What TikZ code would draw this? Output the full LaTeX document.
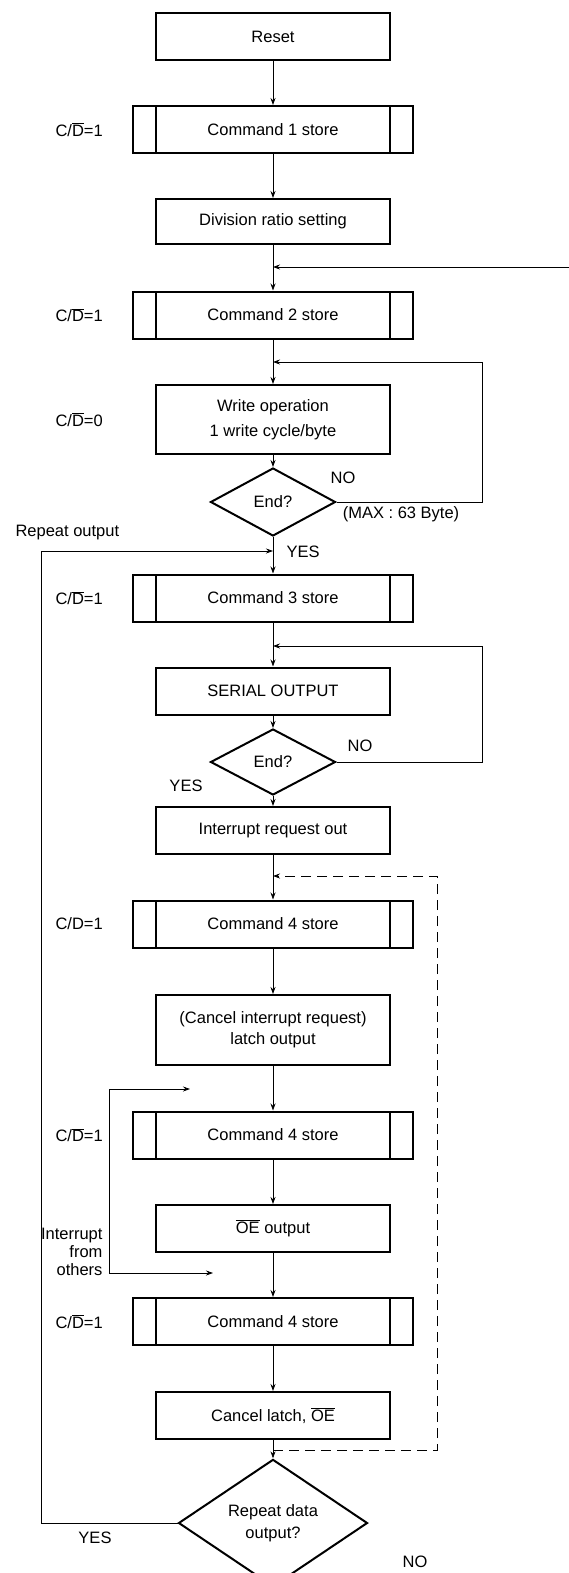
\documentclass[tikz,border=0pt]{standalone}
\usepackage{fontspec}
\setmainfont{Liberation Sans}
\usetikzlibrary{shapes.geometric,arrows.meta}

\newcommand{\Dbar}{$\overline{\mbox{D}}$}
\newcommand{\OEbar}{$\overline{\mbox{OE}}$}

\begin{document}
\begin{tikzpicture}[x=1pt,y=-1pt,
  font=\fontsize{16.5}{20}\selectfont,
  >={Stealth[length=7pt,width=5pt]},
  box/.style={draw,line width=2pt,minimum width=234pt,minimum height=47pt,inner sep=0pt},
  cmdbox/.style={box,minimum width=280pt,
    path picture={\draw[line width=2pt]
      ([xshift=23pt]path picture bounding box.north west) -- ([xshift=23pt]path picture bounding box.south west)
      ([xshift=-23pt]path picture bounding box.north east) -- ([xshift=-23pt]path picture bounding box.south east);}},
  decide/.style={draw,diamond,line width=2pt,inner sep=0pt,align=center},
  flow/.style={->,line width=0.8pt}]

  \def\xc{273}
  \def\xr{482}

  \useasboundingbox (0,0) rectangle (569,1573);

  % boxes
  \node[box] (reset) at (\xc,36.5) {Reset};
  \node[cmdbox] (cmda) at (\xc,129.5) {Command 1 store};
  \node[box,minimum height=45pt] (div) at (\xc,221.5) {Division ratio setting};
  \node[cmdbox] (cmdb) at (\xc,315) {Command 2 store};
  \node[box,minimum height=69pt,align=center,font=\fontsize{16.5}{25}\selectfont] (write) at (\xc,419.5)
    {Write operation\\1 write cycle/byte};
  \node[decide,minimum width=125pt,minimum height=68pt] (enda) at (\xc,502) {End?};
  \node[cmdbox] (cmdc) at (\xc,598) {Command 3 store};
  \node[box] (serial) at (\xc,691) {SERIAL OUTPUT};
  \node[decide,minimum width=125pt,minimum height=66pt] (endb) at (\xc,762) {End?};
  \node[box] (irq) at (\xc,830.5) {Interrupt request out};
  \node[cmdbox] (cmdd) at (\xc,924) {Command 4 store};
  \node[box,minimum height=70pt,align=center,font=\fontsize{16.5}{21}\selectfont] (cancel) at (\xc,1030)
    {(Cancel interrupt request)\\latch output};
  \node[cmdbox] (cmde) at (\xc,1135) {Command 4 store};
  \node[box] (oe) at (\xc,1228.5) {\OEbar{} output};
  \node[cmdbox] (cmdf) at (\xc,1321.5) {Command 4 store};
  \node[box] (latch) at (\xc,1415.5) {Cancel latch, \OEbar};
  \node[decide,minimum width=189pt,minimum height=100pt,font=\fontsize{16.5}{22}\selectfont] (rep) at (\xc,1523)
    {Repeat data\\output?};

  % C/D labels
  \foreach \y/\v [count=\i] in {129.5/1,315/1,419.5/0,598/1,1135/1,1321.5/1}
  \node[anchor=west] (cd\i) at (52,\y) {C/\Dbar=\v};
  \node[anchor=west] (cdx) at (52,924) {C/D=1};

  % main flow
  \draw[flow] (reset) -- (cmda);
  \draw[flow] (cmda) -- (div);
  \draw[flow] (div) -- (cmdb);
  \draw[flow] (cmdb) -- (write);
  \draw[flow] (write) -- (enda);
  \draw[flow] (enda) -- (cmdc);
  \draw[flow] (cmdc) -- (serial);
  \draw[flow] (serial) -- (endb);
  \draw[flow] (endb) -- (irq);
  \draw[flow] (irq) -- (cmdd);
  \draw[flow] (cmdd) -- (cancel);
  \draw[flow] (cancel) -- (cmde);
  \draw[flow] (cmde) -- (oe);
  \draw[flow] (oe) -- (cmdf);
  \draw[flow] (cmdf) -- (latch);
  \draw[flow] (latch) -- (rep);

  % loops
  \coordinate (ina) at (569,267);
  \draw[flow] (ina) -- (div.south |- ina);
  \coordinate (joina) at (\xc,362);
  \draw[flow] (enda.east) -| (\xr,362) -- (joina);
  \coordinate (joinb) at (\xc,646);
  \draw[flow] (endb.east) -| (\xr,646) -- (joinb);
  \coordinate (joinc) at (\xc,551);
  \draw[flow] (rep.west) -| (41,551) -- (joinc);
  \coordinate (joind) at (\xc,876);
  \coordinate (splitd) at (\xc,1450);
  \draw[flow,dash pattern=on 10pt off 6pt] (splitd) -| (437,876) -- (joind);

  % interrupt from others
  \coordinate (irqa) at (190,1089);
  \coordinate (irqb) at (213,1273);
  \draw[<->,line width=0.8pt] (irqa) -- (109,1089) -- (109,1273) -- (irqb);

  % other labels
  \node (noa) at (343,478) {NO};
  \node (max) at (401,514) {(MAX : 63 Byte)};
  \node[anchor=west] (yesa) at (283,552) {YES};
  \node[anchor=west] (rpt) at (12,533) {Repeat output};
  \node (nob) at (360,746) {NO};
  \node (yesb) at (186,786) {YES};
  \node[align=right,anchor=east,font=\fontsize{16.5}{18}\selectfont] (others) at (106,1252) {Interrupt\\from\\others};
  \node (yesc) at (95,1538) {YES};
  \node (noc) at (415,1562) {NO};

\end{tikzpicture}
\end{document}
